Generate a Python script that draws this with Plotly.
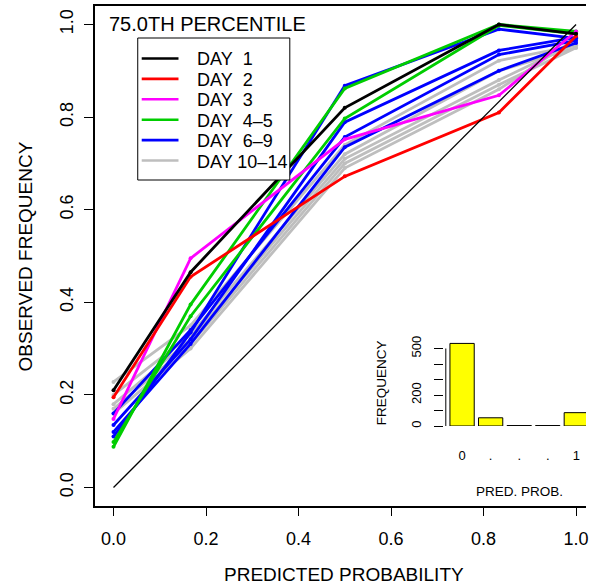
import plotly.graph_objects as go

# ---------------- data ----------------
pred_prob = [0.0, 1/6, 0.5, 5/6, 1.0]

day1 = [0.210, 0.465, 0.820, 1.000, 0.980]
day2 = [0.195, 0.455, 0.672, 0.810, 0.975]
day3 = [0.148, 0.495, 0.752, 0.847, 0.985]
day4_5 = [
    [0.088, 0.395, 0.862, 1.000, 0.985],
    [0.098, 0.370, 0.797, 0.998, 0.980],
]
day6_9 = [
    [0.110, 0.335, 0.868, 0.990, 0.970],
    [0.135, 0.320, 0.789, 0.944, 0.972],
    [0.160, 0.340, 0.757, 0.935, 0.965],
    [0.120, 0.310, 0.735, 0.900, 0.960],
]
day10_14 = [
    [0.228, 0.350, 0.740, 0.922, 0.955],
    [0.200, 0.330, 0.720, 0.900, 0.950],
    [0.180, 0.320, 0.710, 0.880, 0.960],
    [0.170, 0.310, 0.700, 0.870, 0.950],
    [0.160, 0.300, 0.690, 0.860, 0.970],
]

x_ticks = [0.0, 0.2, 0.4, 0.6, 0.8, 1.0]
x_tick_labels = ["0.0", "0.2", "0.4", "0.6", "0.8", "1.0"]
y_ticks = [0.0, 0.2, 0.4, 0.6, 0.8, 1.0]
y_tick_labels = ["0.0", "0.2", "0.4", "0.6", "0.8", "1.0"]

hist_bins = [0, 1, 2, 3, 4]
hist_bin_labels = ["0", ".", ".", ".", "1"]
hist_counts = [533, 53, 3, 3, 86]
hist_y_ticks = [0, 100, 200, 300, 400, 500]
hist_y_labels = ["0", "", "200", "", "", "500"]

groups = [
    ("DAY\u00a0 1", "#000000", [day1]),
    ("DAY\u00a0 2", "#FF0000", [day2]),
    ("DAY\u00a0 3", "#FF00FF", [day3]),
    ("DAY\u00a0 4\u20135", "#00CD00", day4_5),
    ("DAY\u00a0 6\u20139", "#0000FF", day6_9),
    ("DAY 10\u201314", "#BEBEBE", day10_14),
]

FONT = "Liberation Sans, Arial, Helvetica, sans-serif"

fig = go.Figure()

# draw grey first, black last
for name, color, series in reversed(groups):
    for ys in series:
        fig.add_trace(go.Scatter(
            x=pred_prob, y=ys, mode="lines+markers",
            line=dict(color=color, width=2.8),
            marker=dict(color=color, size=4),
            name=name, showlegend=False,
            xaxis="x", yaxis="y",
        ))

# perfect reliability diagonal
fig.add_trace(go.Scatter(
    x=[0, 1], y=[0, 1], mode="lines",
    line=dict(color="black", width=1.3), showlegend=False,
    xaxis="x", yaxis="y",
))

# inset histogram
fig.add_trace(go.Bar(
    x=hist_bins, y=hist_counts,
    marker=dict(color="#FFFF00", line=dict(color="black", width=1)),
    showlegend=False, xaxis="x2", yaxis="y2",
))

fig.update_layout(
    width=589, height=586,
    margin=dict(l=95, r=0, t=6, b=80),
    paper_bgcolor="white", plot_bgcolor="white",
    font=dict(family=FONT, color="black", size=18),
    bargap=0.15,
    showlegend=False,
    xaxis=dict(
        range=[-0.04, 1.0215], tickvals=x_ticks, ticktext=x_tick_labels,
        showgrid=False, zeroline=False,
        showline=True, linewidth=2, linecolor="black", mirror=True,
        ticks="outside", ticklen=8, tickwidth=1, tickcolor="black",
        tickfont=dict(size=18), ticklabelstandoff=7,
        ticklabeloverflow="allow",
    ),
    yaxis=dict(
        range=[-0.04, 1.04], tickvals=y_ticks, ticktext=y_tick_labels,
        showgrid=False, zeroline=False,
        showline=True, linewidth=2, linecolor="black",
        ticks="outside", ticklen=9, tickwidth=1, tickcolor="black",
        tickangle=-90, tickfont=dict(size=18), ticklabelstandoff=4,
    ),
    xaxis2=dict(
        domain=[0.711, 1.0], anchor="y2",
        range=[-0.63, 4.34],
        tickvals=hist_bins, ticktext=hist_bin_labels,
        showgrid=False, zeroline=False, showline=False, ticks="",
        tickfont=dict(size=13), ticklabelstandoff=20,
        ticklabeloverflow="allow",
    ),
    yaxis2=dict(
        domain=[0.16, 0.332], anchor="x2",
        range=[0, 555],
        tickvals=hist_y_ticks, ticktext=hist_y_labels,
        showgrid=False, zeroline=False, showline=False,
        ticks="outside", ticklen=9, tickwidth=1, tickcolor="black",
        tickangle=-90, tickfont=dict(size=13), ticklabelstandoff=8,
    ),
)

# inset y-axis line spanning 0..500 (R style)
fig.add_shape(type="line", xref="x2", yref="y2",
              x0=-0.57, x1=-0.57, y0=0, y1=500,
              line=dict(color="black", width=1))

# ---- manual legend box (pixel layout converted to paper coords) ----
PLOT_L, PLOT_T, PLOT_W, PLOT_H = 95, 6, 494, 500
def px(xp):
    return (xp - PLOT_L) / PLOT_W
def py(yp):
    return (PLOT_T + PLOT_H - yp) / PLOT_H

fig.add_shape(type="rect", xref="paper", yref="paper",
              x0=px(138), x1=px(291), y0=py(180), y1=py(38),
              fillcolor="white", line=dict(color="black", width=1),
              layer="above")
row_y0, row_dy = 58.5, 20.4
for i, (name, color, _) in enumerate(groups):
    yy = row_y0 + i * row_dy
    fig.add_shape(type="line", xref="paper", yref="paper",
                  x0=px(142), x1=px(179), y0=py(yy), y1=py(yy),
                  line=dict(color=color, width=2.6), layer="above")
    fig.add_annotation(xref="paper", yref="paper", showarrow=False,
                       text=name, x=px(196), y=py(yy + 1),
                       xanchor="left", yanchor="middle",
                       font=dict(size=18))

annotations = [
    dict(text="75.0TH PERCENTILE", x=px(107), y=py(24), xanchor="left",
         yanchor="middle", font=dict(size=20)),
    dict(text="PREDICTED PROBABILITY", x=px(346), y=py(574), xanchor="center",
         yanchor="middle", font=dict(size=19)),
    dict(text="OBSERVED FREQUENCY", x=px(25), y=py(256), xanchor="center",
         yanchor="middle", textangle=-90, font=dict(size=19)),
    dict(text="FREQUENCY", x=px(383), y=py(383), xanchor="center",
         yanchor="middle", textangle=-90, font=dict(size=13.5)),
    dict(text="PRED. PROB.", x=px(522), y=py(491), xanchor="center",
         yanchor="middle", font=dict(size=13.5)),
]
for a in annotations:
    fig.add_annotation(xref="paper", yref="paper", showarrow=False, **a)

fig.write_html("out.html",
               config={"displayModeBar": False},
               post_script="document.body.style.margin='0';"
                           "document.body.style.overflow='hidden';")
